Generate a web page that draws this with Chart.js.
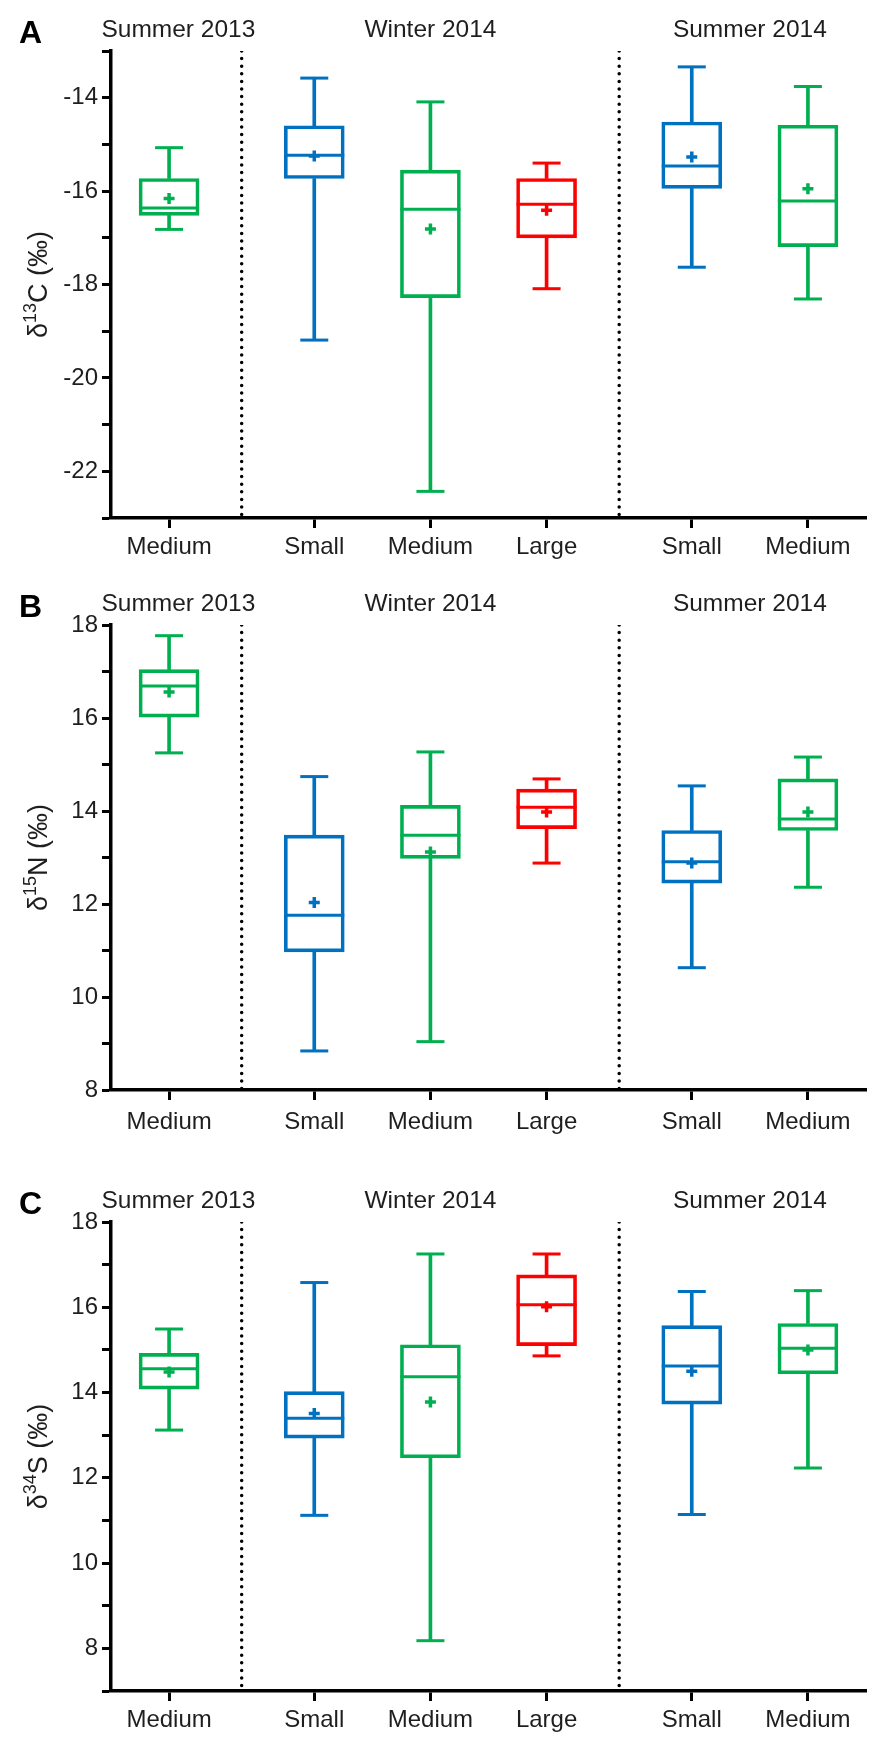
<!DOCTYPE html>
<html>
<head>
<meta charset="utf-8">
<script src="https://cdn.jsdelivr.net/npm/chart.js@4.4.1/dist/chart.umd.min.js"></script>
<style>
  html, body { margin: 0; padding: 0; background: #fff; }
  canvas { display: block; }
</style>
</head>
<body>
<canvas id="chartA" width="874" height="568"></canvas>
<canvas id="chartB" width="874" height="578"></canvas>
<canvas id="chartC" width="874" height="596"></canvas>
<script>
// categories on a shared x axis (Summer 2013 | Winter 2014 | Summer 2014)
const positions = [0, 1.25, 2.25, 3.25, 4.5, 5.5];
const sizeLabels = ['Medium', 'Small', 'Medium', 'Large', 'Small', 'Medium'];
const sizeColors = ['#00B050', '#0070C0', '#00B050', '#FF0000', '#0070C0', '#00B050'];
const seasons = ['Summer 2013', 'Winter 2014', 'Summer 2014'];
const seasonCenters = [0.08, 2.25, 5.0];
const separators = [0.625, 3.875];

// δ13C
const carbonMin = [-16.82, -19.19, -22.43, -18.09, -17.63, -18.31];
const carbonQ1 = [-16.52, -15.73, -18.28, -17.0, -15.94, -17.19];
const carbonMedian = [-16.36, -15.23, -16.39, -16.28, -15.46, -16.21];
const carbonQ3 = [-15.73, -14.6, -15.55, -15.73, -14.52, -14.59];
const carbonMax = [-15.07, -13.58, -14.09, -15.4, -13.34, -13.76];
const carbonMean = [-16.16, -15.25, -16.81, -16.41, -15.27, -15.95];

// δ15N
const nitrogenMin = [15.25, 8.84, 9.04, 12.88, 10.63, 12.36];
const nitrogenQ1 = [16.02, 10.97, 12.98, 13.62, 12.45, 13.58];
const nitrogenMedian = [16.69, 11.76, 13.48, 14.08, 12.91, 13.83];
const nitrogenQ3 = [17.04, 13.48, 14.12, 14.47, 13.58, 14.69];
const nitrogenMax = [17.77, 14.74, 15.27, 14.69, 14.54, 15.16];
const nitrogenMean = [16.56, 12.03, 13.12, 13.98, 12.88, 13.98];

// δ34S
const sulfurMin = [13.12, 11.12, 8.18, 14.86, 11.14, 12.23];
const sulfurQ1 = [14.08, 12.93, 12.47, 15.1, 13.73, 14.44];
const sulfurMedian = [14.56, 13.4, 14.37, 16.06, 14.62, 15.04];
const sulfurQ3 = [14.92, 14.02, 15.12, 16.76, 15.57, 15.62];
const sulfurMax = [15.49, 16.58, 17.25, 17.25, 16.37, 16.39];
const sulfurMean = [14.48, 13.51, 13.78, 16.01, 14.5, 15.0];

const FONT = '"Liberation Sans", Arial, sans-serif';
const TEXT = '#1e1e1e';

const panels = [
  { id: 'chartA', letter: 'A', iso: '13', el: 'C', yMin: -23, yMax: -13, top: 51, bottom: 518, labelPad: 5,
    min: carbonMin, q1: carbonQ1, med: carbonMedian, q3: carbonQ3, max: carbonMax, mean: carbonMean },
  { id: 'chartB', letter: 'B', iso: '15', el: 'N', yMin: 8, yMax: 18, top: 57, bottom: 522, labelPad: 8,
    min: nitrogenMin, q1: nitrogenQ1, med: nitrogenMedian, q3: nitrogenQ3, max: nitrogenMax, mean: nitrogenMean },
  { id: 'chartC', letter: 'C', iso: '34', el: 'S', yMin: 7, yMax: 18, top: 76, bottom: 545, labelPad: 5,
    min: sulfurMin, q1: sulfurQ1, med: sulfurMedian, q3: sulfurQ3, max: sulfurMax, mean: sulfurMean },
];

// season titles, panel letter and the y title with a real superscript
const panelText = {
  id: 'panelText',
  afterDraw(chart, args, opts) {
    const { ctx, chartArea, scales } = chart;
    const base = chartArea.top - 14;
    ctx.save();
    ctx.fillStyle = TEXT;
    ctx.textBaseline = 'alphabetic';
    ctx.textAlign = 'center';
    ctx.font = `24.5px ${FONT}`;
    seasons.forEach((s, i) => ctx.fillText(s, scales.x.getPixelForValue(seasonCenters[i]), base));

    ctx.fillStyle = '#000';
    ctx.textAlign = 'left';
    ctx.font = `bold 32px ${FONT}`;
    ctx.fillText(opts.letter, 19, base + 6);

    const parts = [
      { t: '\u03b4', size: 27, rise: 0 },
      { t: opts.iso, size: 18, rise: 11 },
      { t: opts.el + ' (\u2030)', size: 27, rise: 0 },
    ];
    ctx.fillStyle = TEXT;
    ctx.translate(47, (chartArea.top + chartArea.bottom) / 2);
    ctx.rotate(-Math.PI / 2);
    let total = 0;
    parts.forEach((p) => { ctx.font = `${p.size}px ${FONT}`; p.w = ctx.measureText(p.t).width; total += p.w; });
    let cx = -total / 2;
    parts.forEach((p) => {
      ctx.font = `${p.size}px ${FONT}`;
      ctx.fillText(p.t, cx, -p.rise);
      cx += p.w;
    });
    ctx.restore();
  },
};

function buildPanel(p) {
  const canvas = document.getElementById(p.id);
  const H = canvas.height;
  const at = (arr) => positions.map((x, i) => ({ x, y: arr[i] }));
  const span = (lo, hi) => positions.map((x, i) => ({ x, y: [lo[i], hi[i]] }));

  const datasets = [
    ...separators.map((s) => ({
      type: 'line',
      data: [{ x: s, y: p.yMax }, { x: s, y: p.yMin }],
      borderColor: '#000',
      borderWidth: 3.5,
      borderDash: [0, 7.6],
      borderCapStyle: 'round',
      pointRadius: 0,
    })),
    {
      type: 'bar', data: span(p.min, p.q1), grouped: false, barThickness: 3,
      backgroundColor: sizeColors, borderWidth: 0,
    },
    {
      type: 'bar', data: span(p.q3, p.max), grouped: false, barThickness: 3,
      backgroundColor: sizeColors, borderWidth: 0,
    },
    {
      type: 'bar', data: span(p.q1, p.q3), grouped: false, barThickness: 60,
      backgroundColor: 'rgba(0,0,0,0)', borderColor: sizeColors, borderWidth: 3, borderSkipped: false,
    },
    {
      type: 'scatter', data: at(p.med), pointStyle: 'line', pointRadius: 30,
      pointBorderColor: sizeColors, pointBorderWidth: 3,
    },
    {
      type: 'scatter', data: [...at(p.min), ...at(p.max)], pointStyle: 'line', pointRadius: 14,
      pointBorderColor: [...sizeColors, ...sizeColors], pointBorderWidth: 3,
    },
    {
      type: 'scatter', data: at(p.mean), pointStyle: 'cross', pointRadius: 5.5,
      pointBorderColor: sizeColors, pointBorderWidth: 3.5,
    },
  ];

  new Chart(canvas, {
    type: 'scatter',
    data: { datasets },
    plugins: [panelText],
    options: {
      responsive: false,
      animation: false,
      devicePixelRatio: 1,
      layout: { autoPadding: false, padding: { top: p.top, right: 8, left: 0, bottom: 0 } },
      plugins: {
        legend: { display: false },
        tooltip: { enabled: false },
        panelText: { letter: p.letter, iso: p.iso, el: p.el },
      },
      scales: {
        x: {
          type: 'linear', min: -0.5, max: 6.0, offset: false,
          afterBuildTicks: (s) => { s.ticks = positions.map((v) => ({ value: v })); },
          afterFit: (s) => { s.height = H - p.bottom; s.paddingLeft = 0; s.paddingRight = 0; },
          ticks: {
            autoSkip: false, maxRotation: 0, padding: p.labelPad, color: TEXT, font: { family: FONT, size: 24 },
            callback: (v) => sizeLabels[positions.indexOf(v)],
          },
          grid: { drawOnChartArea: false, drawTicks: true, tickLength: 10, tickWidth: 3, tickColor: '#000', offset: false },
          border: { display: true, color: '#000', width: 3.5 },
        },
        y: {
          min: p.yMin, max: p.yMax,
          afterFit: (s) => { s.width = 111; },
          ticks: {
            stepSize: 1, autoSkip: false, padding: 4, color: TEXT, font: { family: FONT, size: 24 },
            callback: (v) => (v % 2 === 0 ? String(v) : ''),
          },
          grid: { drawOnChartArea: false, drawTicks: true, tickLength: 9, tickWidth: 3, tickColor: '#000' },
          border: { display: true, color: '#000', width: 3.5 },
        },
      },
    },
  });
}

panels.forEach(buildPanel);
</script>
</body>
</html>
